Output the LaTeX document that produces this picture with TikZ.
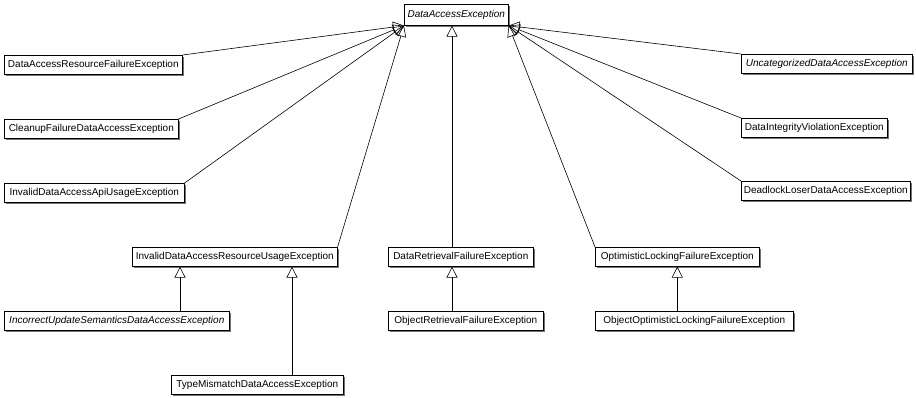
\documentclass[tikz,border=0pt]{standalone}
\usepackage{fontspec}
\newfontfamily\umlfont{Liberation Sans}
\usetikzlibrary{arrows.meta,shadows}

\tikzset{
  cls/.style={draw, fill=white, line width=0.6pt, anchor=north west,
    minimum height=19pt, inner xsep=2pt, inner ysep=0pt,
    font=\umlfont\fontsize{10}{12}\selectfont,
    drop shadow={shadow xshift=1.2pt, shadow yshift=-1.2pt, fill=black!55, opacity=1}},
  abstract/.style={cls, font=\umlfont\itshape\fontsize{10}{12}\selectfont},
  gen/.style={-{Triangle[open, length=11pt, width=11pt]}, line width=0.6pt},
}

\begin{document}
\begin{tikzpicture}[x=1pt, y=-1pt]
    \useasboundingbox (0,0) rectangle (916,397);

    % root
    \node[abstract, minimum width=104pt, minimum height=21pt] (dae) at (404,4) {DataAccessException};

    % left column
    \node[cls, minimum width=178pt] (darfe) at (4,55) {DataAccessResourceFailureException};
    \node[cls, minimum width=174pt] (cfdae) at (4,119) {CleanupFailureDataAccessException};
    \node[cls, minimum width=180pt] (idaaue) at (4,183) {InvalidDataAccessApiUsageException};
    \node[cls, minimum width=205pt] (idarue) at (132,247) {InvalidDataAccessResourceUsageException};
    \node[abstract, minimum width=225pt] (iusdae) at (4,311) {IncorrectUpdateSemanticsDataAccessException};
    \node[cls, minimum width=172pt] (tmdae) at (171,375) {TypeMismatchDataAccessException};

    % middle
    \node[cls, minimum width=145pt] (drfe) at (388,247) {DataRetrievalFailureException};
    \node[cls, minimum width=155pt] (orfe) at (388,311) {ObjectRetrievalFailureException};
    \node[cls, minimum width=164pt] (olfe) at (595,247) {OptimisticLockingFailureException};
    \node[cls, minimum width=198pt] (oolfe) at (595,311) {ObjectOptimisticLockingFailureException};

    % right column
    \node[abstract, minimum width=171pt] (udae) at (741,54) {UncategorizedDataAccessException};
    \node[cls, minimum width=146pt] (dive) at (741,118) {DataIntegrityViolationException};
    \node[cls, minimum width=169pt] (dldae) at (741,181) {DeadlockLoserDataAccessException};

    \coordinate (drtop) at (452,247);
    \coordinate (orftop) at (452,311);
    \coordinate (iustop) at (180,311);
    \coordinate (tmtop) at (292,375);

    % generalizations
    \draw[gen] (darfe.north east) -- (dae.south west);
    \draw[gen] (cfdae.north east) -- (dae.south west);
    \draw[gen] (idaaue.north east) -- (dae.south west);
    \draw[gen] (idarue.north east) -- (dae.south west);
    \draw[gen] (udae.north west) -- (dae.south east);
    \draw[gen] (dive.north west) -- (dae.south east);
    \draw[gen] (dldae.north west) -- (dae.south east);
    \draw[gen] (olfe.north west) -- (dae.south east);
    \draw[gen] (drtop) -- (drtop |- dae.south);

    \draw[gen] (iustop) -- (iustop |- idarue.south);
    \draw[gen] (tmtop) -- (tmtop |- idarue.south);
    \draw[gen] (orftop) -- (orftop |- drfe.south);
    \draw[gen] (olfe.south |- oolfe.north) -- (olfe.south);
\end{tikzpicture}
\end{document}
